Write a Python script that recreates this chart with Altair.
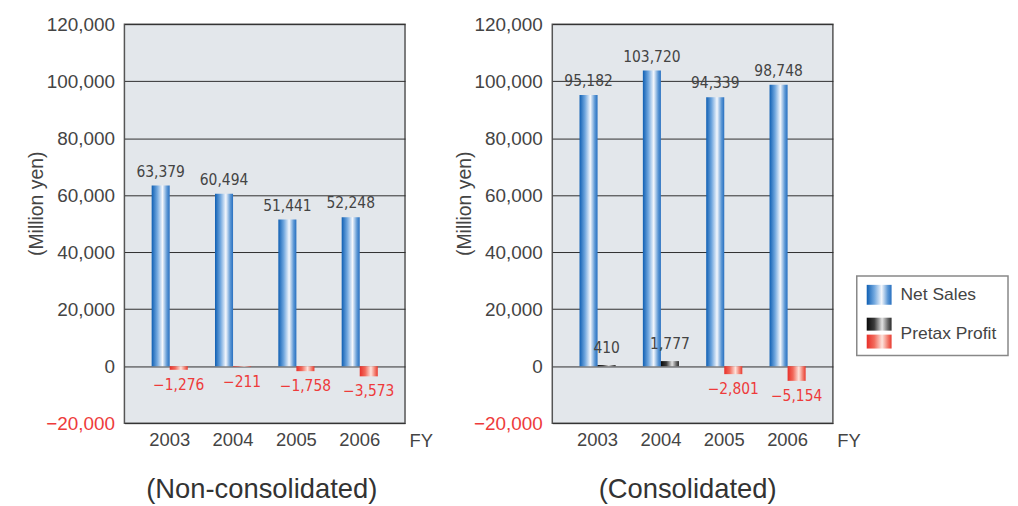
import altair as alt
import pandas as pd

years = ["2003", "2004", "2005", "2006"]
series = ["Net Sales", "Pretax Profit"]
nonconsol_sales = [63379, 60494, 51441, 52248]
nonconsol_profit = [-1276, -211, -1758, -3573]
consol_sales = [95182, 103720, 94339, 98748]
consol_profit = [410, 1777, -2801, -5154]
y_ticks = [-20000, 0, 20000, 40000, 60000, 80000, 100000, 120000]
panel_titles = ["(Non-consolidated)", "(Consolidated)"]

W, H = 282, 401
FONT = "Liberation Sans"
NARROW = "Liberation Sans Narrow, DejaVu Sans Condensed, Liberation Sans"
GRAY = "#444444"
RED = "#ee3b3b"


def grad(stops):
    return alt.Gradient(
        gradient="linear", x1=0, x2=1, y1=0, y2=0,
        stops=[alt.GradientStop(offset=o, color=c) for o, c in stops],
    )


blue_g = grad([(0, "#0f5fb3"), (0.3, "#6fa6de"), (0.6, "#f4f7fc"), (0.85, "#5a96d4"), (1, "#2870c0")])
black_g = grad([(0, "#0a0a0a"), (0.3, "#3a3a3a"), (0.62, "#e2e2e2"), (0.85, "#6a6a6a"), (1, "#2a2a2a")])
red_g = grad([(0, "#e8302a"), (0.3, "#f2695b"), (0.62, "#fde3dc"), (0.85, "#f27a6b"), (1, "#e83a30")])


def fmt(v):
    s = f"{abs(v):,}"
    return ("\u2212" + s) if v < 0 else s


def make_df(sales, profit):
    rows = []
    for y, s, p in zip(years, sales, profit):
        rows.append({"year": y, "series": series[0], "value": s, "label": fmt(s)})
        rows.append({"year": y, "series": series[1], "value": p, "label": fmt(p)})
    return pd.DataFrame(rows)


def panel(sales, profit, title, dx, legend=False):
    df = make_df(sales, profit)
    base = alt.Chart(df).encode(
        x=alt.X(
            "year:N",
            scale=alt.Scale(domain=years, paddingInner=0.43, paddingOuter=0.43),
            axis=alt.Axis(
                title="FY", labelAngle=0, labelFontSize=18.5, labelColor=GRAY,
                labelFont=FONT, labelPadding=7, ticks=False, domain=False,
                titleFont=FONT, titleFontSize=18.5, titleFontWeight="normal",
                titleColor=GRAY, titleX=W + 4, titleY=17, titleAlign="left",
                titleBaseline="middle", titleAnchor="start",
            ),
        ),
        xOffset=alt.XOffset(
            "series:N", scale=alt.Scale(domain=series, paddingInner=0, paddingOuter=0)
        ),
        y=alt.Y(
            "value:Q",
            stack=None,
            scale=alt.Scale(domain=[-20000, 120000], nice=False, zero=False),
            axis=alt.Axis(
                values=y_ticks, title="(Million yen)", grid=True, gridColor="#2e2e2e",
                gridWidth=1, ticks=False, domain=False, labelFontSize=19,
                labelFont=FONT, labelPadding=10,
                labelExpr="datum.value < 0 ? '\u2212' + format(abs(datum.value), ',') : format(datum.value, ',')",
                labelColor={"condition": {"test": "datum.value < 0", "value": RED}, "value": GRAY},
                titleFont=FONT, titleFontSize=19.5, titleFontWeight="normal",
                titleColor=GRAY, titleX=-88, titleY=180, titleBaseline="middle",
            ),
        ),
    )
    sales_bar = base.transform_filter("datum.series == 'Net Sales'").mark_bar(
        fill=blue_g, strokeWidth=0
    ).encode(y2=alt.datum(0))
    pos_bar = base.transform_filter("datum.series == 'Pretax Profit' && datum.value >= 0").mark_bar(
        fill=black_g, strokeWidth=0
    ).encode(y2=alt.datum(0))
    neg_bar = base.transform_filter("datum.series == 'Pretax Profit' && datum.value < 0").mark_bar(
        fill=red_g, strokeWidth=0
    ).encode(y2=alt.datum(0))
    sales_txt = base.transform_filter("datum.series == 'Net Sales'").mark_text(
        dy=-14, font=NARROW, fontSize=15.5, color=GRAY
    ).encode(text="label:N")
    pos_txt = base.transform_filter("datum.series == 'Pretax Profit' && datum.value >= 0").mark_text(
        dy=-17, font=NARROW, fontSize=15.5, color=GRAY
    ).encode(text="label:N")
    neg_txt = base.transform_filter("datum.series == 'Pretax Profit' && datum.value < 0").mark_text(
        dy=15, font=NARROW, fontSize=15.5, color=RED
    ).encode(text="label:N")
    layers = [sales_bar, pos_bar, neg_bar, sales_txt, pos_txt, neg_txt]

    if legend:
        one = pd.DataFrame({"k": [0]})
        box = alt.Chart(one).mark_rect(fill="white", stroke="#888888", strokeWidth=1.5).encode(
            x=alt.value(306), x2=alt.value(458), y=alt.value(253), y2=alt.value(333)
        )
        sw1 = alt.Chart(one).mark_rect(fill=blue_g).encode(
            x=alt.value(316), x2=alt.value(341), y=alt.value(262), y2=alt.value(282)
        )
        sw2 = alt.Chart(one).mark_rect(fill=black_g).encode(
            x=alt.value(316), x2=alt.value(341), y=alt.value(295), y2=alt.value(308)
        )
        sw3 = alt.Chart(one).mark_rect(fill=red_g).encode(
            x=alt.value(316), x2=alt.value(341), y=alt.value(312), y2=alt.value(326)
        )
        t1 = alt.Chart(pd.DataFrame({"label": [series[0]]})).mark_text(
            align="left", baseline="middle", font=FONT, fontSize=17.5, color=GRAY
        ).encode(text="label:N", x=alt.value(350), y=alt.value(272))
        t2 = alt.Chart(pd.DataFrame({"label": [series[1]]})).mark_text(
            align="left", baseline="middle", font=FONT, fontSize=17.5, color=GRAY
        ).encode(text="label:N", x=alt.value(350), y=alt.value(311))
        layers += [box, sw1, sw2, sw3, t1, t2]

    return alt.layer(*layers).properties(
        width=W, height=H,
        title=alt.TitleParams(
            title, orient="bottom", fontSize=27.5, fontWeight="normal", color="#333333",
            font=FONT, frame="group", anchor="middle", dx=dx, offset=27,
        ),
    )


left = panel(nonconsol_sales, nonconsol_profit, panel_titles[0], -3)
right = panel(consol_sales, consol_profit, panel_titles[1], -5, legend=True)

chart = alt.hconcat(left, right, spacing=20).properties(
    padding={"left": 18, "top": 5, "right": 0, "bottom": 0},
    background="white",
).configure_view(fill="#e3e7eb", stroke="#555555", strokeWidth=1.5)

chart.save("out.html", embed_options={"renderer": "svg", "actions": False})
